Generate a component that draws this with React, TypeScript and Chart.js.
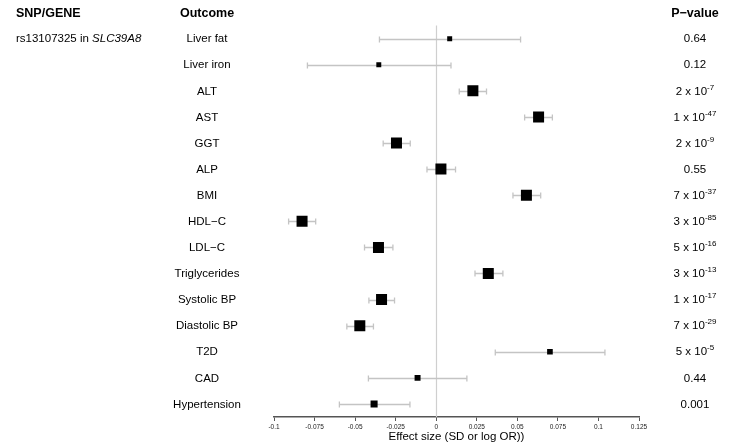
import React, { useEffect, useRef } from "react";
import { Chart, registerables } from "chart.js";

Chart.register(...registerables);

const outcomes = [
  "Liver fat", "Liver iron", "ALT", "AST", "GGT", "ALP", "BMI", "HDL−C", "LDL−C",
  "Triglycerides", "Systolic BP", "Diastolic BP", "T2D", "CAD", "Hypertension",
];
const effects = [
  0.0083, -0.0354, 0.0226, 0.0631, -0.0245, 0.0029, 0.0556, -0.0827, -0.0356,
  0.0321, -0.0337, -0.0471, 0.0701, -0.0115, -0.0383,
];
const ciLow = [
  -0.035, -0.0794, 0.0142, 0.0545, -0.0327, -0.0057, 0.0473, -0.091, -0.0442,
  0.0239, -0.0415, -0.0551, 0.0364, -0.0418, -0.0597,
];
const ciHigh = [
  0.052, 0.0091, 0.031, 0.0716, -0.016, 0.0119, 0.0644, -0.0743, -0.0267,
  0.0411, -0.0257, -0.0387, 0.104, 0.0189, -0.0162,
];
const pValues = [
  "0.64", "0.12", "2 x 10^-7", "1 x 10^-47", "2 x 10^-9", "0.55", "7 x 10^-37",
  "3 x 10^-85", "5 x 10^-16", "3 x 10^-13", "1 x 10^-17", "7 x 10^-29",
  "5 x 10^-5", "0.44", "0.001",
];
const xTicks = [-0.1, -0.075, -0.05, -0.025, 0, 0.025, 0.05, 0.075, 0.1, 0.125];
const snpLabel = "rs13107325 in ";
const geneLabel = "SLC39A8";

const FONT = "'Liberation Sans', Arial, Helvetica, sans-serif";

const markerSide = (i: number) => Math.min(11, 1.47 / Math.sqrt(ciHigh[i] - ciLow[i]));

const forestPlugin = {
  id: "forest",
  beforeDatasetsDraw(chart: any) {
    const { ctx, scales, chartArea } = chart;
    const x = scales.x;
    const y = scales.y;
    ctx.save();
    // zero line
    ctx.strokeStyle = "#cfcfcf";
    ctx.lineWidth = 1.2;
    const x0 = Math.round(x.getPixelForValue(0)) + 0.5;
    ctx.beginPath();
    ctx.moveTo(x0, chartArea.top);
    ctx.lineTo(x0, chartArea.bottom);
    ctx.stroke();
    // error bars
    ctx.strokeStyle = "#c4c4c4";
    ctx.lineWidth = 1.3;
    for (let i = 0; i < outcomes.length; i++) {
      const py = Math.round(y.getPixelForValue(i)) + 0.5;
      const a = x.getPixelForValue(ciLow[i]);
      const b = x.getPixelForValue(ciHigh[i]);
      ctx.beginPath();
      ctx.moveTo(a, py);
      ctx.lineTo(b, py);
      ctx.moveTo(a, py - 3);
      ctx.lineTo(a, py + 3);
      ctx.moveTo(b, py - 3);
      ctx.lineTo(b, py + 3);
      ctx.stroke();
    }
    ctx.restore();
  },
  afterDraw(chart: any) {
    const { ctx, scales } = chart;
    const y = scales.y;
    ctx.save();
    ctx.fillStyle = "#000";
    ctx.textBaseline = "middle";
    const headY = y.getPixelForValue(-1) + 1;
    ctx.font = `bold 12.5px ${FONT}`;
    ctx.textAlign = "left";
    ctx.fillText("SNP/GENE", 16, headY);
    ctx.textAlign = "center";
    ctx.fillText("Outcome", 207, headY);
    ctx.fillText("P−value", 695, headY);

    ctx.font = `11.5px ${FONT}`;
    const y0 = y.getPixelForValue(0) + 0.5;
    ctx.textAlign = "left";
    ctx.fillText(snpLabel, 16, y0);
    const w = ctx.measureText(snpLabel).width;
    ctx.font = `italic 11.5px ${FONT}`;
    ctx.fillText(geneLabel, 16 + w, y0);

    for (let i = 0; i < outcomes.length; i++) {
      const py = y.getPixelForValue(i) + 0.5;
      ctx.font = `11.5px ${FONT}`;
      ctx.textAlign = "center";
      ctx.fillText(outcomes[i], 207, py);
      const p = pValues[i];
      if (p.includes("^")) {
        const [base, exp] = p.split("^");
        ctx.font = `11.5px ${FONT}`;
        const bw = ctx.measureText(base).width;
        ctx.font = `8px ${FONT}`;
        const ew = ctx.measureText(exp).width;
        const start = 695 - (bw + ew) / 2;
        ctx.textAlign = "left";
        ctx.font = `11.5px ${FONT}`;
        ctx.fillText(base, start, py);
        ctx.font = `8px ${FONT}`;
        ctx.fillText(exp, start + bw, py - 4);
      } else {
        ctx.textAlign = "center";
        ctx.fillText(p, 695, py);
      }
    }
    ctx.restore();
  },
};

export default function App() {
  const ref = useRef<HTMLCanvasElement | null>(null);
  useEffect(() => {
    if (!ref.current) return;
    const chart = new Chart(ref.current, {
      type: "scatter",
      data: {
        datasets: [
          {
            data: effects.map((v, i) => ({ x: v, y: i })),
            backgroundColor: "#000",
            borderColor: "#000",
            borderWidth: 0,
            pointStyle: "rect",
            pointRadius: (c: any) => markerSide(c.dataIndex) / Math.SQRT2,
            pointHoverRadius: (c: any) => markerSide(c.dataIndex) / Math.SQRT2,
          },
        ],
      },
      options: {
        animation: false,
        responsive: false,
        events: [],
        layout: { padding: { left: 274, right: 96, top: 25.6, bottom: 0 } },
        plugins: { legend: { display: false }, tooltip: { enabled: false } },
        scales: {
          y: { type: "linear", min: -0.5, max: 14.5, reverse: true, display: false },
          x: {
            type: "linear",
            min: xTicks[0],
            max: xTicks[xTicks.length - 1],
            afterBuildTicks: (scale: any) => {
              scale.ticks = xTicks.map((v) => ({ value: v }));
            },
            afterFit: (scale: any) => {
              scale.height = 31;
            },
            ticks: {
              font: { size: 6.5, family: FONT },
              color: "#222",
              padding: 2,
              maxRotation: 0,
              autoSkip: false,
              callback: (v: any) => String(Math.round(Number(v) * 1000) / 1000),
            },
            grid: {
              display: true,
              drawOnChartArea: false,
              drawTicks: true,
              tickLength: 4,
              color: "#555",
              lineWidth: 1,
            },
            border: { display: true, color: "#555", width: 1.5 },
            title: {
              display: true,
              text: "Effect size (SD or log OR))",
              font: { size: 11.5, family: FONT },
              color: "#000",
              padding: { top: 0, bottom: 4 },
            },
          },
        },
      },
      plugins: [forestPlugin],
    });
    return () => chart.destroy();
  }, []);
  return (
    <div style={{ position: "fixed", left: 0, top: 0, width: 735, height: 448, background: "#fff" }}>
      <canvas ref={ref} width={735} height={448} style={{ display: "block" }} />
    </div>
  );
}
